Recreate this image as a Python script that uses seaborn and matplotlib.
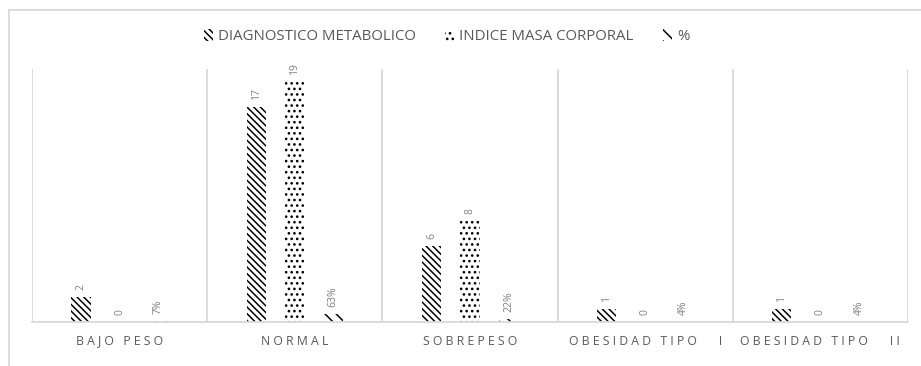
import pandas as pd
import matplotlib.pyplot as plt
import matplotlib.patches as mpatches
import seaborn as sns

categorias = ['BAJO PESO', 'NORMAL', 'SOBREPESO', 'OBESIDAD TIPO   I', 'OBESIDAD TIPO   II']
series = ['DIAGNOSTICO METABOLICO', 'INDICE MASA CORPORAL', '%']
diagnostico = [2, 17, 6, 1, 1]
imc = [0, 19, 8, 0, 0]
porcentaje = [0.07, 0.63, 0.22, 0.04, 0.04]
etiquetas_pct = ['7%', '63%', '22%', '4%', '4%']

df = pd.DataFrame({
    'categoria': categorias * 3,
    'serie': [series[0]] * 5 + [series[1]] * 5 + [series[2]] * 5,
    'valor': diagnostico + imc + porcentaje,
})

sns.set_style('white')
plt.rcParams['font.family'] = ['Open Sans', 'DejaVu Sans']
plt.rcParams['hatch.linewidth'] = 1.1

fig = plt.figure(figsize=(9.21, 3.66), dpi=100)
ax = fig.add_axes([0.0347, 0.1202, 0.9512, 0.6913])

sns.barplot(data=df, x='categoria', y='valor', hue='serie', order=categorias,
            hue_order=series, width=0.66, gap=0.5,
            palette=['white'] * 3, legend=False, ax=ax)

hatches = ['\\\\\\\\\\', '...', '\\\\\\']
for cont, h in zip(ax.containers, hatches):
    for bar in cont:
        bar.set_hatch(h)
        bar.set_edgecolor('black')
        bar.set_linewidth(0)
        bar.set_facecolor('white')

gris = '#7f7f7f'
ax.bar_label(ax.containers[0], labels=[str(v) for v in diagnostico], rotation=90,
             padding=5, fontsize=7.5, color=gris)
ax.bar_label(ax.containers[1], labels=[str(v) for v in imc], rotation=90,
             padding=5, fontsize=7.5, color=gris)
ax.bar_label(ax.containers[2], labels=etiquetas_pct, rotation=90,
             padding=5, fontsize=7.5, color=gris)

ax.set_ylim(0, 20)
ax.set_xlim(-0.5, 4.5)
ax.set_yticks([])
ax.set_xticks(range(5))
ax.set_xticklabels([' '.join(c) for c in categorias], fontsize=8.8, color='#595959')
ax.tick_params(axis='x', length=0, pad=9)
ax.set_xticks([i - 0.5 for i in range(6)], minor=True)
ax.tick_params(axis='x', which='minor', length=0)
ax.grid(True, which='minor', axis='x', color='#d9d9d9', linewidth=1.3)
ax.set_xlabel('')
ax.set_ylabel('')
for s in ['top', 'right', 'left']:
    ax.spines[s].set_visible(False)
ax.spines['bottom'].set_color('#d9d9d9')
ax.spines['bottom'].set_linewidth(1.3)

handles = [mpatches.Patch(facecolor='white', edgecolor='black', linewidth=0,
                          hatch=h, label=s) for h, s in zip(hatches, series)]
leg = fig.legend(handles=handles, loc='center', bbox_to_anchor=(0.485, 0.9),
                 ncol=3, frameon=False, fontsize=10.8, handlelength=0.6,
                 handleheight=0.8, columnspacing=2.0, handletextpad=0.3,
                 labelcolor='#595959')

borde = mpatches.Rectangle((9 / 921, -0.1), 1.1, 1 - 10 / 366 + 0.1,
                           transform=fig.transFigure, fill=False,
                           edgecolor='#d9d9d9', linewidth=1.3)
fig.patches.append(borde)

fig.savefig('out.png', dpi=100)
